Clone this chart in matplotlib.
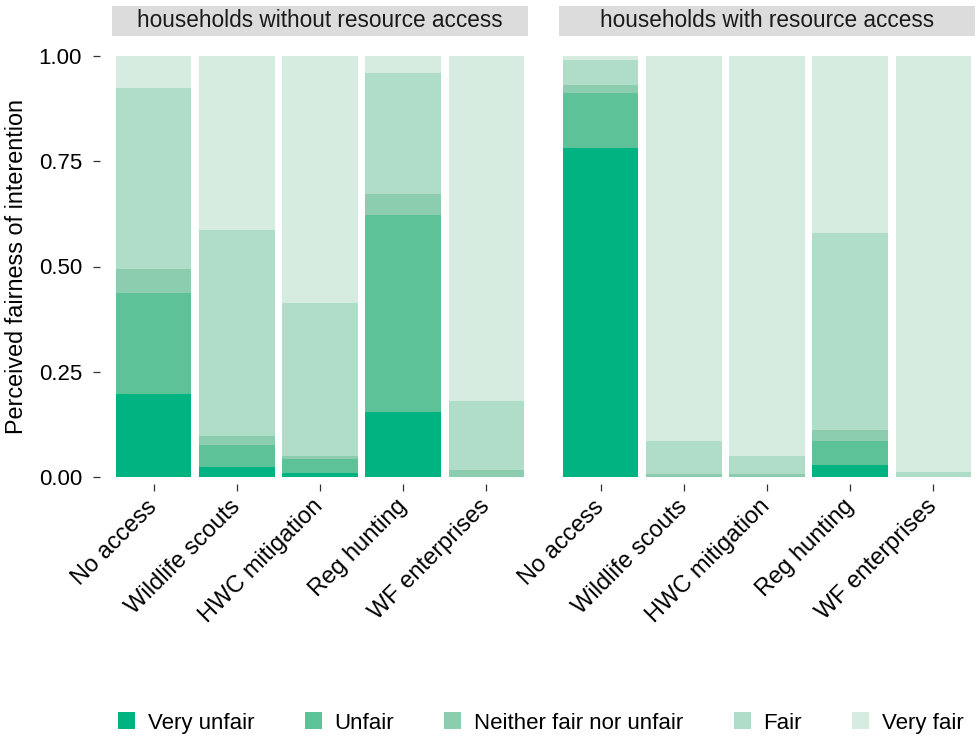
"""Stacked fairness shares per intervention, split by resource access."""

import matplotlib

matplotlib.use("Agg")
import matplotlib.pyplot as plt
import numpy as np
from matplotlib.patches import Patch, Rectangle

plt.rcParams["font.family"] = ["Liberation Sans", "DejaVu Sans"]

interventions = [
    "No access",
    "Wildlife scouts",
    "HWC mitigation",
    "Reg hunting",
    "WF enterprises",
]
panels = ["households without resource access", "households with resource access"]
levels = ["Very unfair", "Unfair", "Neither fair nor unfair", "Fair", "Very fair"]
level_colors = ["#00b381", "#5ec298", "#8bcdae", "#b0ddc7", "#d6ece1"]

# shares per level (rows) for each intervention (columns)
without_access = [
    [0.197, 0.023, 0.009, 0.154, 0.000],
    [0.240, 0.052, 0.033, 0.468, 0.000],
    [0.057, 0.022, 0.007, 0.050, 0.016],
    [0.430, 0.489, 0.364, 0.288, 0.164],
    [0.076, 0.414, 0.587, 0.040, 0.820],
]
with_access = [
    [0.781, 0.000, 0.000, 0.028, 0.000],
    [0.131, 0.000, 0.000, 0.057, 0.000],
    [0.019, 0.006, 0.006, 0.026, 0.000],
    [0.059, 0.079, 0.043, 0.468, 0.013],
    [0.010, 0.915, 0.951, 0.421, 0.987],
]

W, H = 978, 738
fig = plt.figure(figsize=(W / 100, H / 100), dpi=100)


def panel_axes(x0, x1, y_top, y_bottom):
    return fig.add_axes([x0 / W, 1 - y_bottom / H, (x1 - x0) / W, (y_bottom - y_top) / H])


ax_left = panel_axes(112, 528, 56, 477)
ax_right = panel_axes(559, 975, 56, 477)

x = np.arange(len(interventions))
for ax, title, data in zip((ax_left, ax_right), panels, (without_access, with_access)):
    bottom = np.zeros(len(interventions))
    for values, color in zip(data, level_colors):
        values = np.array(values)
        ax.bar(x, values, bottom=bottom, width=0.91, color=color, linewidth=0)
        bottom += values

    ax.set_xlim(-0.5, len(interventions) - 0.5)
    ax.set_ylim(0, 1)
    for side in ("top", "right", "left", "bottom"):
        ax.spines[side].set_visible(False)
    ax.spines["bottom"].set_position(("outward", 5))
    ax.spines["left"].set_position(("outward", 8.6))
    ax.set_xticks(x)
    ax.set_xticklabels(
        interventions, rotation=45, ha="right", va="center",
        rotation_mode="anchor", fontsize=17,
    )
    ax.tick_params(axis="both", length=5, width=0.9, color="#333333", labelsize=16)
    ax.tick_params(axis="x", pad=9, labelsize=17)
    ax.tick_params(axis="y", pad=8)

    # facet strip
    ax.add_patch(
        Rectangle(
            (0, 1.0475), 1, 0.0713, transform=ax.transAxes,
            facecolor="#dcdcdc", edgecolor="none", clip_on=False,
        )
    )
    ax.text(
        0.5, 1.0475 + 0.0713 / 2, title, transform=ax.transAxes,
        ha="center", va="center", fontsize=16.3, color="#1a1a1a",
    )

ax_left.set_yticks([0, 0.25, 0.5, 0.75, 1.0])
ax_left.set_yticklabels(["0.00", "0.25", "0.50", "0.75", "1.00"])
ax_right.set_yticks([])
ax_left.set_ylabel("Perceived fairness of interention", fontsize=16.8, labelpad=8)

handles = [Patch(facecolor=c, edgecolor="none") for c in level_colors]
fig.legend(
    handles, levels, loc="center", bbox_to_anchor=(541 / W, 1 - 723 / H),
    ncol=5, frameon=False, fontsize=16, handlelength=0.77, handleheight=0.77,
    handletextpad=0.58, columnspacing=2.25,
)

fig.savefig("out.png", dpi=100)
